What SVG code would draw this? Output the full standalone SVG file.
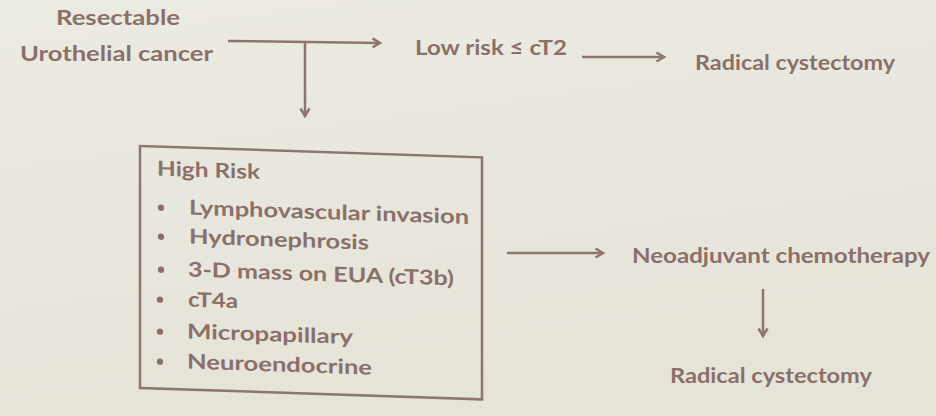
<svg xmlns="http://www.w3.org/2000/svg" width="936" height="416" viewBox="0 0 936 416">
<defs>
<marker id="ah" markerWidth="12" markerHeight="12" refX="9" refY="6" orient="auto" markerUnits="userSpaceOnUse">
<path d="M1.5,1.5 L9,6 L1.5,10.5" fill="none" stroke="#8e7670" stroke-width="2.5"/>
</marker>
<linearGradient id="bg" x1="0" y1="0" x2="0.3" y2="1">
<stop offset="0" stop-color="#ecebe1"/>
<stop offset="1" stop-color="#e6e3d9"/>
</linearGradient>
</defs>
<style>
text{font-family:Lato,"Open Sans","Liberation Sans",sans-serif;fill:#8a706a;font-weight:bold}
.t{font-size:21px}
.b{font-size:20.5px}
.c{stroke:#8e7670;stroke-width:2.5;fill:none}
</style>
<rect width="936" height="416" fill="url(#bg)"/>
<g id="start">
<text class="t" x="118" y="25" text-anchor="middle" textLength="124" lengthAdjust="spacingAndGlyphs">Resectable</text>
<text class="t" x="20" y="61" textLength="193" lengthAdjust="spacingAndGlyphs">Urothelial cancer</text>
</g>
<g id="lowrisk">
<text class="t" x="415" y="55" textLength="152" lengthAdjust="spacingAndGlyphs">Low risk ≤ cT2</text>
</g>
<g id="rc1">
<text class="t" x="695" y="70" textLength="200" lengthAdjust="spacingAndGlyphs">Radical cystectomy</text>
</g>
<g id="highrisk" transform="translate(140 0) skewY(1.9) translate(-140 0)">
<rect x="140" y="146" width="342" height="242" fill="none" stroke="#8e7670" stroke-width="2.5"/>
<text class="b" x="157" y="175" textLength="103" lengthAdjust="spacingAndGlyphs">High Risk</text>
<g fill="#8a706a">
<circle cx="161" cy="207" r="3.2"/>
<circle cx="161" cy="236" r="3.2"/>
<circle cx="161" cy="269" r="3.2"/>
<circle cx="160" cy="299" r="3.2"/>
<circle cx="160" cy="331" r="3.2"/>
<circle cx="160" cy="361" r="3.2"/>
</g>
<text class="b" x="189" y="213" textLength="280" lengthAdjust="spacingAndGlyphs">Lymphovascular invasion</text>
<text class="b" x="189" y="242" textLength="180" lengthAdjust="spacingAndGlyphs">Hydronephrosis</text>
<text class="b" x="188" y="275" textLength="266" lengthAdjust="spacingAndGlyphs">3-D mass on EUA (cT3b)</text>
<text class="b" x="188" y="305" textLength="50" lengthAdjust="spacingAndGlyphs">cT4a</text>
<text class="b" x="187" y="337" textLength="166" lengthAdjust="spacingAndGlyphs">Micropapillary</text>
<text class="b" x="187" y="367" textLength="185" lengthAdjust="spacingAndGlyphs">Neuroendocrine</text>
</g>
<g id="neo">
<text class="t" x="632" y="263" textLength="298" lengthAdjust="spacingAndGlyphs">Neoadjuvant chemotherapy</text>
</g>
<g id="rc2">
<text class="t" x="670" y="383" textLength="202" lengthAdjust="spacingAndGlyphs">Radical cystectomy</text>
</g>
<g id="connectors">
<path class="c" d="M228,41 L380,43" marker-end="url(#ah)"/>
<path class="c" d="M305,42 L305,116" marker-end="url(#ah)"/>
<path class="c" d="M582,57 L664,57" marker-end="url(#ah)"/>
<path class="c" d="M507,253 L603,253" marker-end="url(#ah)"/>
<path class="c" d="M763,289 L763,336" marker-end="url(#ah)"/>
</g>
</svg>
